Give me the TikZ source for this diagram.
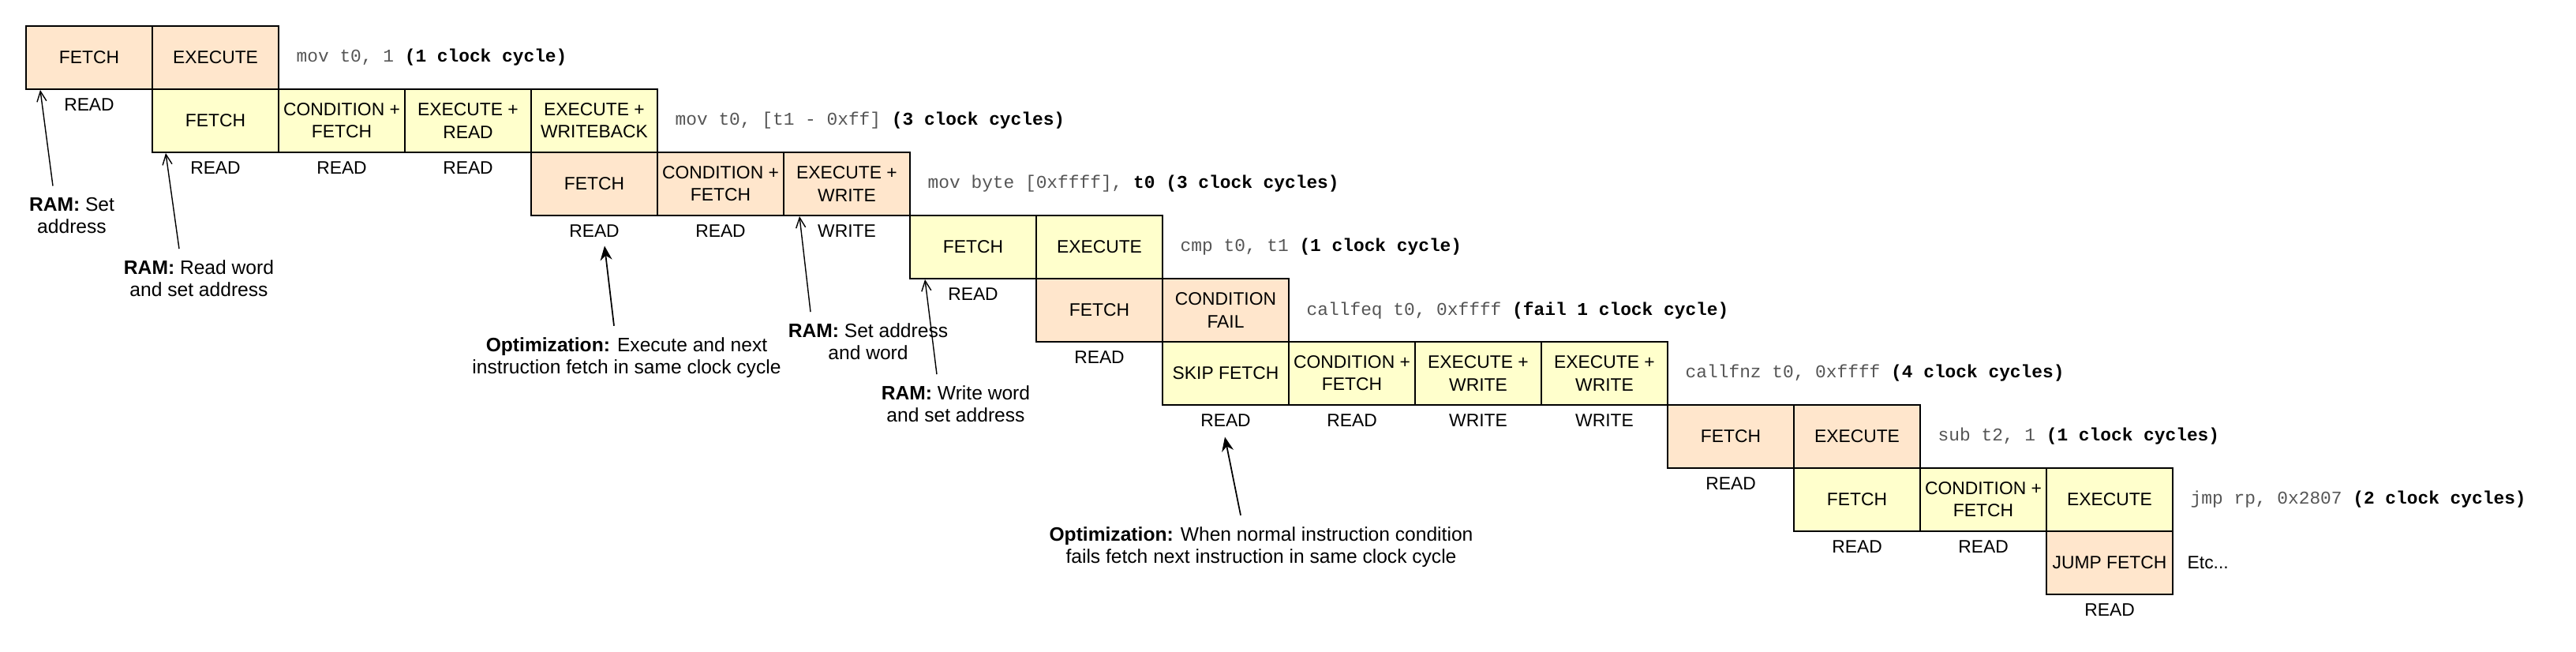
\documentclass[tikz,border=0pt]{standalone}
\usepackage{fontspec}
\setmainfont{Liberation Sans}
\setmonofont{Liberation Mono}
\usetikzlibrary{positioning,arrows.meta}
\definecolor{peach}{HTML}{FFE6CC}
\definecolor{lemon}{HTML}{FFFFCC}
\definecolor{codegray}{HTML}{555555}
\newcommand{\cycles}[1]{\textcolor{black}{\bfseries #1}}
\begin{document}
\begin{tikzpicture}[
  cell/.style={draw,line width=0.4pt,minimum width=1.6cm,minimum height=0.8cm,inner sep=0pt,outer sep=0pt,align=center,font=\fontsize{6.5}{8}\selectfont},
  pcell/.style={cell,fill=peach},
  ycell/.style={cell,fill=lemon},
  rw/.style={inner sep=0pt,font=\fontsize{6.5}{8}\selectfont},
  code/.style={anchor=west,inner sep=0pt,xshift=0.22cm,text=codegray,font=\fontsize{6.5}{8}\ttfamily},
  note/.style={align=center,inner sep=0pt,font=\fontsize{7}{8}\selectfont},
  ramarrow/.style={-{Straight Barb[length=1.3mm,width=1.2mm]},line width=0.4pt},
  optarrow/.style={-{Stealth[length=1.8mm,width=1.5mm]},line width=0.5pt}]
\useasboundingbox (0,0) rectangle (32.64,-8.26);
\node[pcell] (r0c0) at (1.13,-0.73) {FETCH};
\node[pcell,right=0pt of r0c0] (r0c1) {EXECUTE};
\node[code] (r0code) at (r0c1.east) {mov t0, 1 \cycles{(1 clock cycle)}};
\node[ycell] (r1c1) at (2.73,-1.53) {FETCH};
\node[ycell,right=0pt of r1c1] (r1c2) {CONDITION +\\FETCH};
\node[ycell,right=0pt of r1c2] (r1c3) {EXECUTE +\\READ};
\node[ycell,right=0pt of r1c3] (r1c4) {EXECUTE +\\WRITEBACK};
\node[code] (r1code) at (r1c4.east) {mov t0, [t1 - 0xff] \cycles{(3 clock cycles)}};
\node[pcell] (r2c4) at (7.53,-2.33) {FETCH};
\node[pcell,right=0pt of r2c4] (r2c5) {CONDITION +\\FETCH};
\node[pcell,right=0pt of r2c5] (r2c6) {EXECUTE +\\WRITE};
\node[code] (r2code) at (r2c6.east) {mov byte [0xffff], \cycles{t0 (3 clock cycles)}};
\node[ycell] (r3c7) at (12.33,-3.13) {FETCH};
\node[ycell,right=0pt of r3c7] (r3c8) {EXECUTE};
\node[code] (r3code) at (r3c8.east) {cmp t0, t1 \cycles{(1 clock cycle)}};
\node[pcell] (r4c8) at (13.93,-3.93) {FETCH};
\node[pcell,right=0pt of r4c8] (r4c9) {CONDITION\\FAIL};
\node[code] (r4code) at (r4c9.east) {callfeq t0, 0xffff \cycles{(fail 1 clock cycle)}};
\node[ycell] (r5c9) at (15.53,-4.73) {SKIP FETCH};
\node[ycell,right=0pt of r5c9] (r5c10) {CONDITION +\\FETCH};
\node[ycell,right=0pt of r5c10] (r5c11) {EXECUTE +\\WRITE};
\node[ycell,right=0pt of r5c11] (r5c12) {EXECUTE +\\WRITE};
\node[code] (r5code) at (r5c12.east) {callfnz t0, 0xffff \cycles{(4 clock cycles)}};
\node[pcell] (r6c13) at (21.93,-5.53) {FETCH};
\node[pcell,right=0pt of r6c13] (r6c14) {EXECUTE};
\node[code] (r6code) at (r6c14.east) {sub t2, 1 \cycles{(1 clock cycles)}};
\node[ycell] (r7c14) at (23.53,-6.33) {FETCH};
\node[ycell,right=0pt of r7c14] (r7c15) {CONDITION +\\FETCH};
\node[ycell,right=0pt of r7c15] (r7c16) {EXECUTE};
\node[code] (r7code) at (r7c16.east) {jmp rp, 0x2807 \cycles{(2 clock cycles)}};
\node[pcell] (r8c16) at (26.73,-7.13) {JUMP FETCH};
\node[code,text=black,font=\fontsize{6.5}{8}\selectfont,xshift=-0.04cm] (r8etc) at (r8c16.east) {Etc...};
\node[rw] (r0c0rw) at ([yshift=-0.2cm]r0c0.south) {READ};
\node[rw] (r1c1rw) at ([yshift=-0.2cm]r1c1.south) {READ};
\node[rw] (r1c2rw) at ([yshift=-0.2cm]r1c2.south) {READ};
\node[rw] (r1c3rw) at ([yshift=-0.2cm]r1c3.south) {READ};
\node[rw] (r2c4rw) at ([yshift=-0.2cm]r2c4.south) {READ};
\node[rw] (r2c5rw) at ([yshift=-0.2cm]r2c5.south) {READ};
\node[rw] (r2c6rw) at ([yshift=-0.2cm]r2c6.south) {WRITE};
\node[rw] (r3c7rw) at ([yshift=-0.2cm]r3c7.south) {READ};
\node[rw] (r4c8rw) at ([yshift=-0.2cm]r4c8.south) {READ};
\node[rw] (r5c9rw) at ([yshift=-0.2cm]r5c9.south) {READ};
\node[rw] (r5c10rw) at ([yshift=-0.2cm]r5c10.south) {READ};
\node[rw] (r5c11rw) at ([yshift=-0.2cm]r5c11.south) {WRITE};
\node[rw] (r5c12rw) at ([yshift=-0.2cm]r5c12.south) {WRITE};
\node[rw] (r6c13rw) at ([yshift=-0.2cm]r6c13.south) {READ};
\node[rw] (r7c14rw) at ([yshift=-0.2cm]r7c14.south) {READ};
\node[rw] (r7c15rw) at ([yshift=-0.2cm]r7c15.south) {READ};
\node[rw] (r8c16rw) at ([yshift=-0.2cm]r8c16.south) {READ};
\node[note] (ramset) at (0.91,-2.73) {\textbf{RAM:} Set\\address};
\node[note] (ramread) at (2.52,-3.53) {\textbf{RAM:} Read word\\and set address};
\node[note] (optexec) at (7.94,-4.53) {\textbf{Optimization:} Execute and next\\instruction fetch in same clock cycle};
\node[note] (ramsetword) at (11.00,-4.33) {\textbf{RAM:} Set address\\and word};
\node[note] (ramwrite) at (12.11,-5.12) {\textbf{RAM:} Write word\\and set address};
\node[note] (optskip) at (15.98,-6.93) {\textbf{Optimization:} When normal instruction condition\\fails fetch next instruction in same clock cycle};
\draw[ramarrow] ([xshift=-0.24cm,yshift=0.14cm]ramset.north) -- ([xshift=0.18cm,yshift=-0.01cm]r0c0.south west);
\draw[ramarrow] ([xshift=-0.25cm,yshift=0.14cm]ramread.north) -- ([xshift=0.17cm,yshift=-0.01cm]r1c1.south west);
\draw[optarrow] ([xshift=-0.16cm,yshift=0.14cm]optexec.north) -- ([xshift=0.13cm,yshift=-0.1cm]r2c4rw.south);
\draw[ramarrow] ([xshift=-0.73cm,yshift=0.14cm]ramsetword.north) -- ([xshift=0.2cm,yshift=-0.01cm]r2c6.south west);
\draw[ramarrow] ([xshift=-0.24cm,yshift=0.14cm]ramwrite.north) -- ([xshift=0.19cm,yshift=-0.01cm]r3c7.south west);
\draw[optarrow] ([xshift=-0.26cm,yshift=0.14cm]optskip.north) -- ([xshift=-0.01cm,yshift=-0.12cm]r5c9rw.south);
\end{tikzpicture}
\end{document}
